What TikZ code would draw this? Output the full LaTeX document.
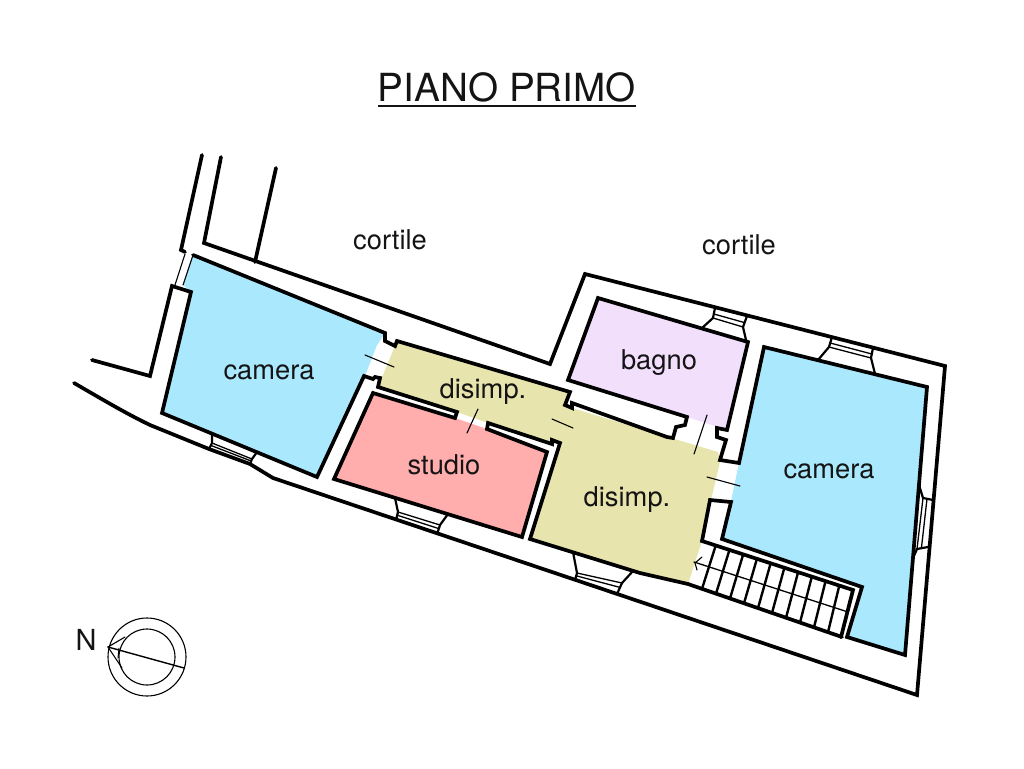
\documentclass[tikz,border=0pt]{standalone}
\usepackage{fontspec}
\setmainfont{TeX Gyre Heros}
\usetikzlibrary{calc}
\definecolor{roomblue}{RGB}{170,232,253}
\definecolor{roomyellow}{RGB}{232,228,174}
\definecolor{roompink}{RGB}{255,173,173}
\definecolor{roomlilac}{RGB}{242,223,252}
\definecolor{ink}{RGB}{20,20,20}
\tikzset{
  wall/.style={line width=3.7pt,draw=black},
  thinwall/.style={line width=1.1pt,draw=black},
  stairline/.style={line width=2.4pt,draw=black},
  doorline/.style={line width=1.1pt,draw=black},
  glassline/.style={line width=1.3pt,draw=black},
  revealline/.style={line width=2.2pt,draw=black},
  roomlabel/.style={font=\fontsize{27.3}{30}\selectfont,text=ink,inner sep=0pt},
}
% inner a, glass a, outer a, inner b, glass b, outer b
\newcommand{\winframe}[6]{
  \draw [revealline] (#1)--(#2)--(#3);
  \draw [revealline] (#4)--(#5)--(#6);
  \draw [glassline] (#2)--(#5);
  \draw [glassline] ($(#2)!0.4!(#3)$)--($(#5)!0.4!(#6)$);
}
\begin{document}
\begin{tikzpicture}[line cap=round,line join=miter,x=1pt,y=-1pt]
\useasboundingbox (0,0) rectangle (1024,768);
% room fills
\fill [roomblue] (193,255)--(385,333)--(377,345)--(365,376)--(317,477)--(162,413)--(191,292)--(183,285)--cycle;
\fill [roomblue] (764,347)--(927,387)--(905,655)--(847,637)--(862,587)--(722,539)--(731,501)--(739,463)--cycle;
\fill [roomyellow] (395,346)--(397,341)--(568,392)--(565,405)--(572,408)--(668,437)--(718,452)--(720,462)--(711,500)--(702,541)--(688,584)--(640,573)--(530,539)--(560,443)--(552,444)--(488,423)--(457,412)--(378,387)--cycle;
\fill [roompink] (373,393)--(455,418)--(487,429)--(547,452)--(522,537)--(334,479)--cycle;
\fill [roomlilac] (568,380)--(598,298)--(746,340)--(727,430)--(687,417)--cycle;
% outer walls
\draw [wall] (202,155)--(181,250)--(185,252);
\draw [wall] (221,157)--(204,243)--(550,364)--(585,274)--(945,366)--(917,695)--(273,478)--(250,464)--(209,449)--(150,425)..controls (125,413) and (100,398) .. (74,383);
\draw [wall] (276,168)--(255,262);
\draw [wall] (92,360)--(150,376)--(172,286)--(191,292)--(162,413)--(317,477)--(364,376)--(373,379)--(375,377)--(380,378)--(378,387)--(457,412)--(455,418)--(373,393)--(334,479)--(522,537)--(547,452)--(487,429)--(488,423)--(552,444)--(552,440)--(560,443)--(530,539)--(640,573)--(688,584)--(842,637);
\draw [thinwall] (185,254)--(175,285);
\draw [thinwall] (193,255)--(183,285);
% inner walls
\draw [wall] (193,255)--(385,333)--(385,341)--(395,346)--(397,341)--(570,392)--(565,405)--(572,408)--(572,403)--(667,437)--(673,438)--(676,427)--(685,425)--(687,417)--(568,380)--(598,298)--(748,342)--(727,430)--(717,428)--(717,437)--(726,440)--(720,460)--(739,463)--(764,347)--(927,387)--(905,655)--(847,637)--(862,587)--(722,539)--(731,502)--(710,500)--(702,541)--(853,590)--(841,637);
% stairs
\coordinate (stairtopl) at (702,541);
\coordinate (stairtopr) at (853,590);
\coordinate (stairbotl) at (688,584);
\coordinate (stairbotr) at (842,637);
\foreach \i in {1,...,10}
  \draw [stairline] ($(stairtopl)!\i/11!(stairtopr)$)--($(stairbotl)!\i/11!(stairbotr)$);
\draw [glassline] (694,562)--(848,612);
\draw [doorline] (702,557)--(695,563)--(697,570);
% windows
\winframe{212,433}{212,443}{209,449}{257,452}{252,459}{250,464}
\winframe{395,498}{398,512}{396,520}{448,514}{440,525}{437,534}
\winframe{573,552}{577,573}{575,580}{633,571}{622,583}{617,594}
\winframe{702,328}{713,318}{715,308}{746,340}{743,327}{747,316}
\winframe{818,360}{829,347}{832,337}{875,374}{871,358}{873,348}
\winframe{919,485}{923,498}{933,500}{913,558}{917,549}{928,547}
% door leaves
\draw [doorline] (365,355)--(394,367);
\draw [doorline] (478,409)--(467,433);
\draw [doorline] (552,419)--(573,428);
\draw [doorline] (707,415)--(694,454);
\draw [doorline] (707,477)--(740,486);
% labels
\node (title) [font=\fontsize{38.7}{42}\selectfont,text=ink,inner sep=0pt] at (507,87) {PIANO PRIMO};
\draw [line width=1.7pt,draw=ink,line cap=butt] (378,106)--(636,106);
\node (cortilel) [roomlabel] at (390,240) {cortile};
\node (cortiler) [roomlabel] at (739,245) {cortile};
\node (cameral) [roomlabel] at (269,372) {camera};
\node (camerar) [roomlabel] at (829,471) {camera};
\node (bagno) [roomlabel] at (659,363) {bagno};
\node (disimpu) [roomlabel] at (483,392) {disimp.};
\node (disimpl) [roomlabel] at (627,500) {disimp.};
\node (studio) [roomlabel] at (444,465) {studio};
% north mark
\node (north) [font=\fontsize{29}{32}\selectfont,text=ink,inner sep=0pt] at (86,640) {N};
\draw [line width=1.1pt] (147,657) circle [radius=39];
\draw [line width=1.1pt] (147,657) circle [radius=28];
\draw [line width=1.4pt] (108,647)--(184,668);
\draw [line width=1.1pt] (125,637)--(108,647)--(122,668);
\draw [line width=1pt] (119,648)--(118,658);
\end{tikzpicture}
\end{document}
